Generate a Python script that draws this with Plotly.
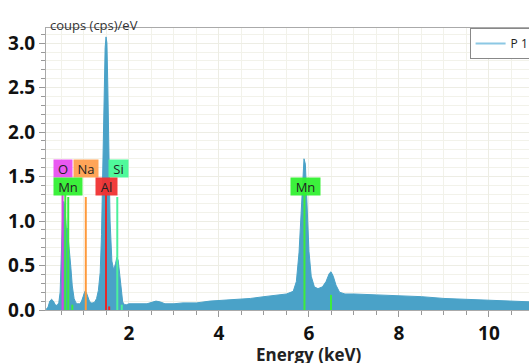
import plotly.graph_objects as go

# Spectrum (energy keV, counts cps/eV)
energy = [0.16, 0.20, 0.24, 0.28, 0.32, 0.36, 0.40, 0.44, 0.47, 0.49, 0.51, 0.53, 0.55, 0.57, 0.59,
          0.61, 0.63, 0.65, 0.68, 0.71, 0.74, 0.78, 0.82, 0.86, 0.90, 0.94, 0.98, 1.02, 1.05, 1.08,
          1.12, 1.16, 1.20, 1.24, 1.28, 1.32, 1.36, 1.39, 1.42, 1.45, 1.47, 1.49, 1.51, 1.53, 1.55,
          1.58, 1.62, 1.66, 1.70, 1.73, 1.76, 1.79, 1.82, 1.86, 1.90, 1.95, 2.0, 2.2, 2.4, 2.6,
          2.7, 2.8, 3.0, 3.2, 3.5, 3.8, 4.1, 4.4, 4.7, 5.0, 5.3, 5.5, 5.65, 5.72, 5.78,
          5.82, 5.86, 5.89, 5.92, 5.96, 6.0, 6.05, 6.12, 6.2, 6.3, 6.38, 6.45, 6.49, 6.54, 6.6,
          6.68, 6.8, 7.0, 7.5, 8.0, 8.5, 9.0, 9.5, 10.0, 10.5, 11.0]
counts = [0.01, 0.03, 0.10, 0.12, 0.10, 0.06, 0.05, 0.08, 0.20, 0.55, 0.95, 1.15, 1.22, 1.18, 1.05,
          0.90, 0.92, 0.78, 0.62, 0.47, 0.27, 0.13, 0.08, 0.07, 0.07, 0.09, 0.15, 0.21, 0.20, 0.15,
          0.10, 0.08, 0.08, 0.09, 0.13, 0.22, 0.42, 0.85, 1.55, 2.55, 2.95, 3.07, 3.00, 2.50, 1.75,
          1.00, 0.55, 0.45, 0.52, 0.59, 0.56, 0.42, 0.22, 0.09, 0.06, 0.06, 0.07, 0.07, 0.07, 0.10,
          0.09, 0.07, 0.07, 0.08, 0.08, 0.10, 0.11, 0.12, 0.13, 0.15, 0.17, 0.18, 0.21, 0.32, 0.65,
          1.08, 1.54, 1.70, 1.64, 1.20, 0.66, 0.38, 0.26, 0.24, 0.26, 0.32, 0.41, 0.43, 0.38, 0.28,
          0.20, 0.18, 0.18, 0.17, 0.16, 0.15, 0.13, 0.12, 0.11, 0.10, 0.09]

# Element marker lines
line_energy = [0.525, 0.585, 0.650, 0.740, 1.040, 1.490, 1.560, 1.740, 1.840, 5.900, 6.490]
line_height = [1.40, 1.30, 1.27, 0.06, 1.27, 1.40, 0.04, 1.27, 0.06, 1.40, 0.17]
line_color = ["#D548E0", "#3DEB3D", "#3DEB3D", "#3DEB3D", "#FF9A3C", "#E82828", "#E82828",
              "#4CF09C", "#4CF09C", "#3DEB3D", "#3DEB3D"]

# Element labels
label_text = ["O", "Na", "Si", "Mn", "Al", "Mn"]
label_x = [0.533, 1.044, 1.767, 0.644, 1.50, 5.92]
label_y = [1.59, 1.59, 1.59, 1.39, 1.39, 1.39]
label_w = [18, 24, 19, 28, 21, 29]
label_bg = ["rgba(232,80,240,0.95)", "rgba(255,160,80,0.95)", "rgba(70,250,150,0.95)",
            "rgba(50,240,50,0.95)", "rgba(240,50,50,0.95)", "rgba(50,240,50,0.95)"]

fig = go.Figure()
fig.add_trace(go.Scatter(x=energy, y=counts, mode="lines", fill="tozeroy",
                         line=dict(color="#4AA2C8", width=1), fillcolor="#4AA2C8",
                         showlegend=False, name="P 1"))
for e, h, c in zip(line_energy, line_height, line_color):
    fig.add_trace(go.Scatter(x=[e, e], y=[0, h], mode="lines",
                             line=dict(color=c, width=2), showlegend=False, hoverinfo="skip"))
fig.add_trace(go.Scatter(x=[None], y=[None], mode="lines", name="P 1",
                         line=dict(color="#8CC8E4", width=2)))

for t, x, y, w, bg in zip(label_text, label_x, label_y, label_w, label_bg):
    fig.add_annotation(x=x, y=y, text=t, showarrow=False, bgcolor=bg, width=w, height=17,
                       borderpad=0, font=dict(family="Open Sans", size=13, color="#222222"))

fig.add_annotation(xref="paper", yref="paper", x=0, y=1, xanchor="left", yanchor="bottom",
                   yshift=-8, xshift=2, text="coups (cps)/eV", showarrow=False,
                   font=dict(family="Open Sans", size=13, color="#333333"))
fig.add_annotation(xref="x", yref="paper", x=6.0, y=0, yanchor="top", yshift=-31,
                   text="Energy (keV)", showarrow=False,
                   font=dict(family="Open Sans", size=17, color="#222222", weight="bold"))

tickfont = dict(family="Open Sans", size=19, color="#111111", weight="bold")
fig.update_xaxes(range=[0.156, 10.89], tickmode="linear", tick0=0, dtick=2,
                 ticks="outside", ticklen=6, tickcolor="#999999", tickfont=tickfont,
                 showgrid=True, gridcolor="#EDEDE4", gridwidth=1,
                 minor=dict(dtick=0.5, tick0=0, ticks="outside", ticklen=4, tickcolor="#999999",
                            showgrid=True, gridcolor="#F2F2EA"),
                 showline=True, linecolor="#AAAAAA", linewidth=1, mirror=True, zeroline=False)
fig.update_yaxes(range=[0, 3.17], tickmode="linear", tick0=0, dtick=0.5, tickformat=".1f",
                 ticks="outside", ticklen=6, tickcolor="#999999", tickfont=tickfont,
                 showgrid=True, gridcolor="#EDEDE4", gridwidth=1,
                 minor=dict(dtick=0.1, tick0=0, ticks="outside", ticklen=4, tickcolor="#999999",
                            showgrid=True, gridcolor="#F2F2EA"),
                 showline=True, linecolor="#AAAAAA", linewidth=1, mirror=True, zeroline=False)

fig.update_layout(width=529, height=363, margin=dict(l=46, r=0, t=28, b=53, autoexpand=False),
                  plot_bgcolor="white", paper_bgcolor="white",
                  legend=dict(x=0.877, y=1, xanchor="left", yanchor="top", bgcolor="white",
                              bordercolor="#888888", borderwidth=1, itemwidth=30,
                              font=dict(family="Open Sans", size=12, color="#222222"),
                              tracegroupgap=0))
fig.write_html("out.html", config={"displayModeBar": False},
               post_script="document.body.style.margin='0';document.body.style.overflow='hidden';")
